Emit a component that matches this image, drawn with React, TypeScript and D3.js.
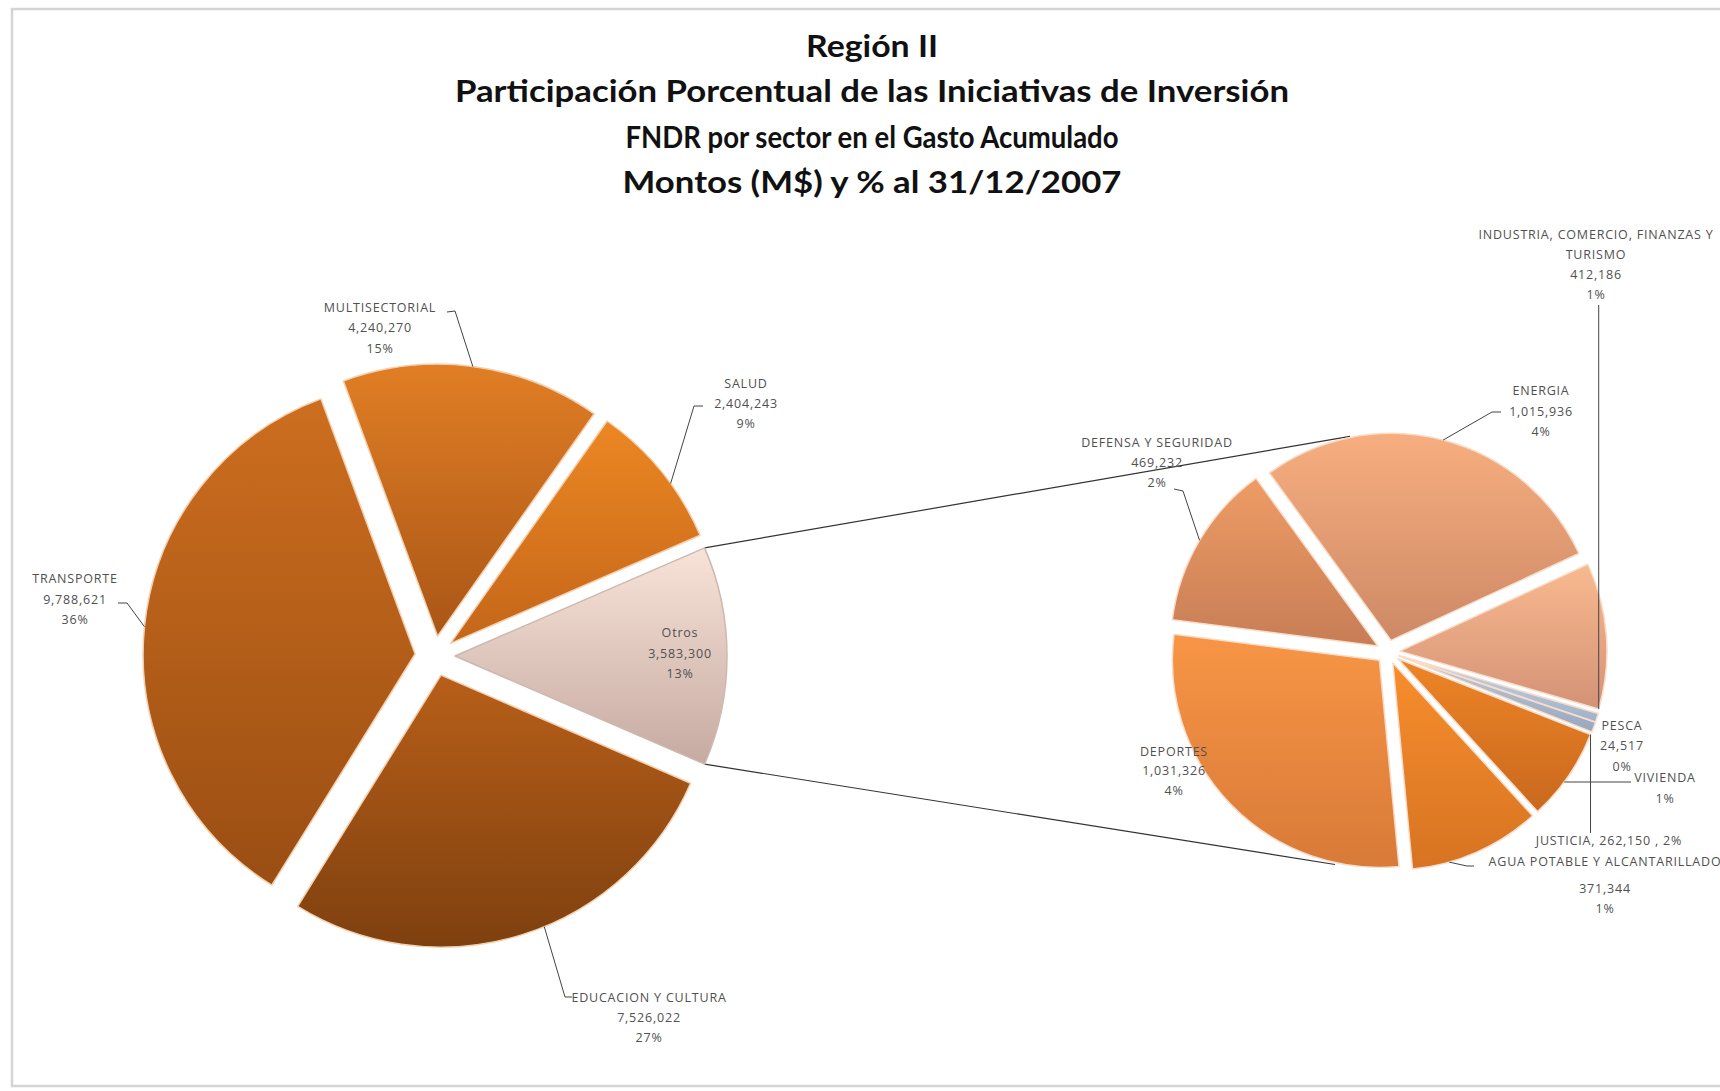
import * as d3 from 'd3';

// main pie (Otros first, then clockwise)
const mainCategories = ['Otros', 'EDUCACION Y CULTURA', 'TRANSPORTE', 'MULTISECTORIAL', 'SALUD'];
const mainValues = [3583300, 7526022, 9788621, 4240270, 2404243];
const mainPercents = ['13%', '27%', '36%', '15%', '9%'];

// secondary pie (breakdown of Otros), clockwise from ENERGIA
const subCategories = [
  'ENERGIA',
  'INDUSTRIA, COMERCIO, FINANZAS Y TURISMO',
  'PESCA',
  'VIVIENDA',
  'JUSTICIA',
  'AGUA POTABLE Y ALCANTARILLADO',
  'DEPORTES',
  'DEFENSA Y SEGURIDAD',
];
const subValues = [1015936, 412186, 24517, 28000, 262150, 371344, 1031326, 469232];
const subPercents = ['4%', '1%', '0%', '1%', '2%', '1%', '4%', '2%'];

const titleLines = [
  'Región II',
  'Participación Porcentual de las Iniciativas de Inversión',
  'FNDR por sector en el Gasto Acumulado',
  'Montos (M$)  y % al 31/12/2007',
];

const W = 1720;
const H = 1091;
const fmt = d3.format(',');
const deg = Math.PI / 180;

const mainColors = [
  ['#f8e3d8', '#c6aaa1'],
  ['#b85f19', '#7e400f'],
  ['#cd6e1f', '#9a4e13'],
  ['#e17e25', '#a95616'],
  ['#ec8722', '#c4661a'],
];
const subColors = [
  ['#f7ae7f', '#cd8966'],
  ['#f9b98f', '#d49276'],
  ['#c9d5e4', '#a0b1c7'],
  ['#bfcbdc', '#97a7be'],
  ['#ee8427', '#c8691d'],
  ['#f78e2d', '#d77322'],
  ['#f89545', '#d87a38'],
  ['#ee9c64', '#c77d56'],
];

// title line placement (y, width)
const titleY = [49, 94, 140, 185];
const titleW = [132, 834, 493, 499];

const main = { cx: 435, cy: 656, r: 272, off: 20 };
const sub = { cx: 1388, cy: 652, r: 207, off: 12 };

type Pt = [number, number];
type LabelLayout = {
  x: number;
  ys: number[];
  lead?: Pt[];
  frac?: number;
  kind?: 'vertical' | 'horizontal' | 'vstart';
};

const mainLabels: LabelLayout[] = [
  { x: 680, ys: [634, 655, 675] },
  { x: 649, ys: [999, 1019, 1039], lead: [[572, 997], [565, 997]], frac: 0.45 },
  { x: 75, ys: [580, 601, 621], lead: [[118, 603], [127, 603]] },
  { x: 380, ys: [309, 329, 350], lead: [[447, 312], [455, 311]] },
  { x: 746, ys: [385, 405, 425], lead: [[703, 406], [694, 406]], frac: 0.6 },
];

const subLabels: LabelLayout[] = [
  { x: 1541, ys: [392, 413, 433], lead: [[1501, 412], [1492, 412]] },
  { x: 1596, ys: [236, 256, 276, 296], lead: [[0, 305]], kind: 'vertical', frac: 1 },
  { x: 1622, ys: [727, 747, 768] },
  { x: 1665, ys: [779, 800], lead: [[1631, 782]], kind: 'horizontal' },
  { x: 1609, ys: [842], lead: [[0, 833]], kind: 'vstart', frac: 0 },
  { x: 1605, ys: [863, 890, 910], lead: [[1474, 866], [1467, 866]], frac: 0.72 },
  { x: 1174, ys: [753, 772, 792] },
  { x: 1157, ys: [444, 464, 484], lead: [[1174, 489], [1183, 491]] },
];

function outerPoint(
  g: { cx: number; cy: number; r: number; off: number },
  a0: number,
  a1: number,
  a: number,
): Pt {
  const mid = (a0 + a1) / 2;
  const ox = g.cx + g.off * Math.sin(mid);
  const oy = g.cy - g.off * Math.cos(mid);
  return [ox + g.r * Math.sin(a), oy - g.r * Math.cos(a)];
}

const App = () => {
  const otrosShare = (mainValues[0] / d3.sum(mainValues)) * 2 * Math.PI;
  const mainStart = Math.PI / 2 - otrosShare / 2;
  const mainArcs = d3
    .pie<number>()
    .sort(null)
    .startAngle(mainStart)
    .endAngle(mainStart + 2 * Math.PI)(mainValues);

  const subStart = -36 * deg;
  const subArcs = d3
    .pie<number>()
    .sort(null)
    .startAngle(subStart)
    .endAngle(subStart + 2 * Math.PI)(subValues);

  const mainArc = d3.arc<d3.PieArcDatum<number>>().innerRadius(0).outerRadius(main.r);
  const subArc = d3.arc<d3.PieArcDatum<number>>().innerRadius(0).outerRadius(sub.r);

  const shift = (g: typeof main, a: d3.PieArcDatum<number>) => {
    const mid = (a.startAngle + a.endAngle) / 2;
    return `translate(${g.cx + g.off * Math.sin(mid)},${g.cy - g.off * Math.cos(mid)})`;
  };

  // connector lines between Otros and secondary pie
  const otros = mainArcs[0];
  const c1a = outerPoint(main, otros.startAngle, otros.endAngle, otros.startAngle);
  const c2a = outerPoint(main, otros.startAngle, otros.endAngle, otros.endAngle);
  const R2 = sub.r + sub.off;
  const c1b: Pt = [sub.cx + R2 * Math.sin(-10 * deg), sub.cy - R2 * Math.cos(-10 * deg)];
  const c2b: Pt = [sub.cx + R2 * Math.sin(194 * deg), sub.cy - R2 * Math.cos(194 * deg)];

  const lineGen = d3.line();

  const leaderPath = (g: typeof main, a: d3.PieArcDatum<number>, l: LabelLayout) => {
    if (!l.lead) return null;
    const f = l.frac ?? 0.5;
    const ang = a.startAngle + f * (a.endAngle - a.startAngle);
    const p = outerPoint(g, a.startAngle, a.endAngle, ang);
    if (l.kind === 'vertical' || l.kind === 'vstart') {
      return lineGen([[p[0], l.lead[0][1]], p]);
    }
    if (l.kind === 'horizontal') {
      const y = l.lead[0][1];
      const R = g.r + g.off;
      const x = g.cx + Math.sqrt(Math.max(0, R * R - (y - g.cy) * (y - g.cy)));
      return lineGen([l.lead[0], [x, y]]);
    }
    return lineGen([...l.lead, p]);
  };

  const mainText = (i: number) => [mainCategories[i], fmt(mainValues[i]), mainPercents[i]];
  const subText = (i: number) => {
    if (i === 1) return ['INDUSTRIA,  COMERCIO,  FINANZAS Y', 'TURISMO', fmt(subValues[i]), subPercents[i]];
    if (i === 3) return [subCategories[i], subPercents[i]];
    if (i === 4) return [`${subCategories[i]},  ${fmt(subValues[i])} , ${subPercents[i]}`];
    return [subCategories[i], fmt(subValues[i]), subPercents[i]];
  };

  const labelStyle = {
    fontFamily: "'Open Sans', sans-serif",
    fontSize: 12.5,
    letterSpacing: 0.8,
    fill: '#505050',
  } as const;

  return (
    <svg
      width={W}
      height={H}
      style={{ position: 'absolute', left: 0, top: 0, background: '#fff' }}
    >
      <defs>
        {mainColors.map((c, i) => (
          <linearGradient key={i} id={`mg${i}`} x1="0" y1="0" x2="0" y2="1">
            <stop offset="0" stopColor={c[0]} />
            <stop offset="1" stopColor={c[1]} />
          </linearGradient>
        ))}
        {subColors.map((c, i) => (
          <linearGradient key={i} id={`sg${i}`} x1="0" y1="0" x2="0" y2="1">
            <stop offset="0" stopColor={c[0]} />
            <stop offset="1" stopColor={c[1]} />
          </linearGradient>
        ))}
      </defs>

      <rect x={12} y={9} width={W} height={1077} fill="none" stroke="#d4d4d4" strokeWidth={2.5} />

      {/* title */}
      <g fontFamily="Lato, sans-serif" fontWeight="bold" fontSize={30} fill="#111" textAnchor="middle">
        {titleLines.map((t, i) => (
          <text
            key={i}
            x={872}
            y={titleY[i]}
            dominantBaseline="middle"
            textLength={titleW[i]}
            lengthAdjust="spacingAndGlyphs"
          >
            {t}
          </text>
        ))}
      </g>

      {/* connectors */}
      <path d={lineGen([c1a, c1b]) ?? ''} stroke="#333" strokeWidth={1.2} fill="none" />
      <path d={lineGen([c2a, c2b]) ?? ''} stroke="#333" strokeWidth={1.2} fill="none" />

      {/* main pie */}
      {mainArcs.map((a, i) => (
        <path
          key={i}
          transform={shift(main, a)}
          d={mainArc(a) ?? ''}
          fill={`url(#mg${i})`}
          stroke={i === 0 ? '#cdb8ae' : '#f3cfae'}
          strokeWidth={1.5}
          strokeLinejoin="round"
        />
      ))}

      {/* secondary pie */}
      {subArcs.map((a, i) => (
        <path
          key={i}
          transform={shift(sub, a)}
          d={subArc(a) ?? ''}
          fill={`url(#sg${i})`}
          stroke="#f8dcc8"
          strokeWidth={1.5}
          strokeLinejoin="round"
        />
      ))}

      {/* leader lines */}
      {mainArcs.map((a, i) => {
        const d = leaderPath(main, a, mainLabels[i]);
        return d ? <path key={i} d={d} stroke="#444" strokeWidth={1} fill="none" /> : null;
      })}
      {subArcs.map((a, i) => {
        const d = leaderPath(sub, a, subLabels[i]);
        return d ? <path key={i} d={d} stroke="#444" strokeWidth={1} fill="none" /> : null;
      })}

      {/* labels */}
      {mainLabels.map((l, i) =>
        mainText(i).map((t, j) => (
          <text key={`${i}-${j}`} x={l.x} y={l.ys[j]} textAnchor="middle" dominantBaseline="middle" {...labelStyle}>
            {t}
          </text>
        )),
      )}
      {subLabels.map((l, i) =>
        subText(i).map((t, j) => (
          <text key={`${i}-${j}`} x={l.x} y={l.ys[j]} textAnchor="middle" dominantBaseline="middle" {...labelStyle}>
            {t}
          </text>
        )),
      )}
    </svg>
  );
};

export default App;
